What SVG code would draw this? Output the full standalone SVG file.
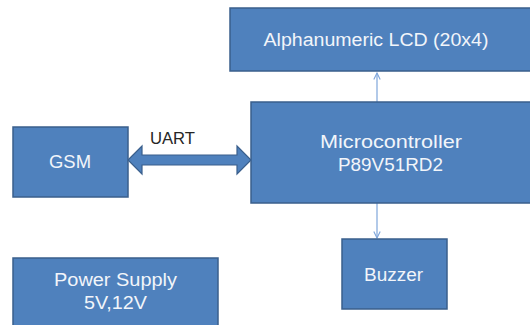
<svg xmlns="http://www.w3.org/2000/svg" width="530" height="325" viewBox="0 0 530 325">
<defs>
<style>
.box{fill:#4F81BD;stroke:#3A5F8C;stroke-width:1.5}
.t{font-family:"Liberation Sans",Arial,sans-serif;font-size:18px;fill:#F2F5FA;text-anchor:middle}
.lbl{font-family:"Liberation Sans",Arial,sans-serif;font-size:16px;fill:#262626}
.ln{stroke:#7FA6DA;stroke-width:1.2;fill:none}
</style>
<marker id="ah" viewBox="0 0 10 10" refX="9" refY="5" markerWidth="8" markerHeight="8" markerUnits="userSpaceOnUse" orient="auto">
<path d="M1,1 L9,5 L1,9" fill="none" stroke="#7FA6DA" stroke-width="1.4"/>
</marker>
</defs>
<rect width="530" height="325" fill="#fff"/>
<g id="connectors">
<line class="ln" x1="377" y1="102" x2="377" y2="73" marker-end="url(#ah)"/>
<line class="ln" x1="377" y1="203" x2="377" y2="238" marker-end="url(#ah)"/>
<path d="M128,160 L142,146 L142,155 L237,155 L237,146 L251,160 L237,174 L237,165 L142,165 L142,174 Z" fill="#4F81BD" stroke="#3A5F8C" stroke-width="1.2"/>
<text class="lbl" x="150" y="144" textLength="45" lengthAdjust="spacingAndGlyphs">UART</text>
</g>
<g id="lcd">
<rect class="box" x="230" y="8" width="302" height="63"/>
<text class="t" x="376" y="46" textLength="225" lengthAdjust="spacingAndGlyphs">Alphanumeric LCD (20x4)</text>
</g>
<g id="mcu">
<rect class="box" x="251" y="102" width="281" height="101"/>
<text class="t" x="391" y="148" textLength="142" lengthAdjust="spacingAndGlyphs">Microcontroller</text>
<text class="t" x="390.5" y="171" textLength="105" lengthAdjust="spacingAndGlyphs">P89V51RD2</text>
</g>
<g id="gsm">
<rect class="box" x="13" y="127" width="115" height="70"/>
<text class="t" x="70" y="168" textLength="42" lengthAdjust="spacingAndGlyphs">GSM</text>
</g>
<g id="buzzer">
<rect class="box" x="342" y="239" width="105" height="70"/>
<text class="t" x="393.5" y="281" textLength="59" lengthAdjust="spacingAndGlyphs">Buzzer</text>
</g>
<g id="power">
<rect class="box" x="13" y="258" width="205" height="80"/>
<text class="t" x="115.5" y="286" textLength="123" lengthAdjust="spacingAndGlyphs">Power Supply</text>
<text class="t" x="115.5" y="309" textLength="63" lengthAdjust="spacingAndGlyphs">5V,12V</text>
</g>
</svg>
